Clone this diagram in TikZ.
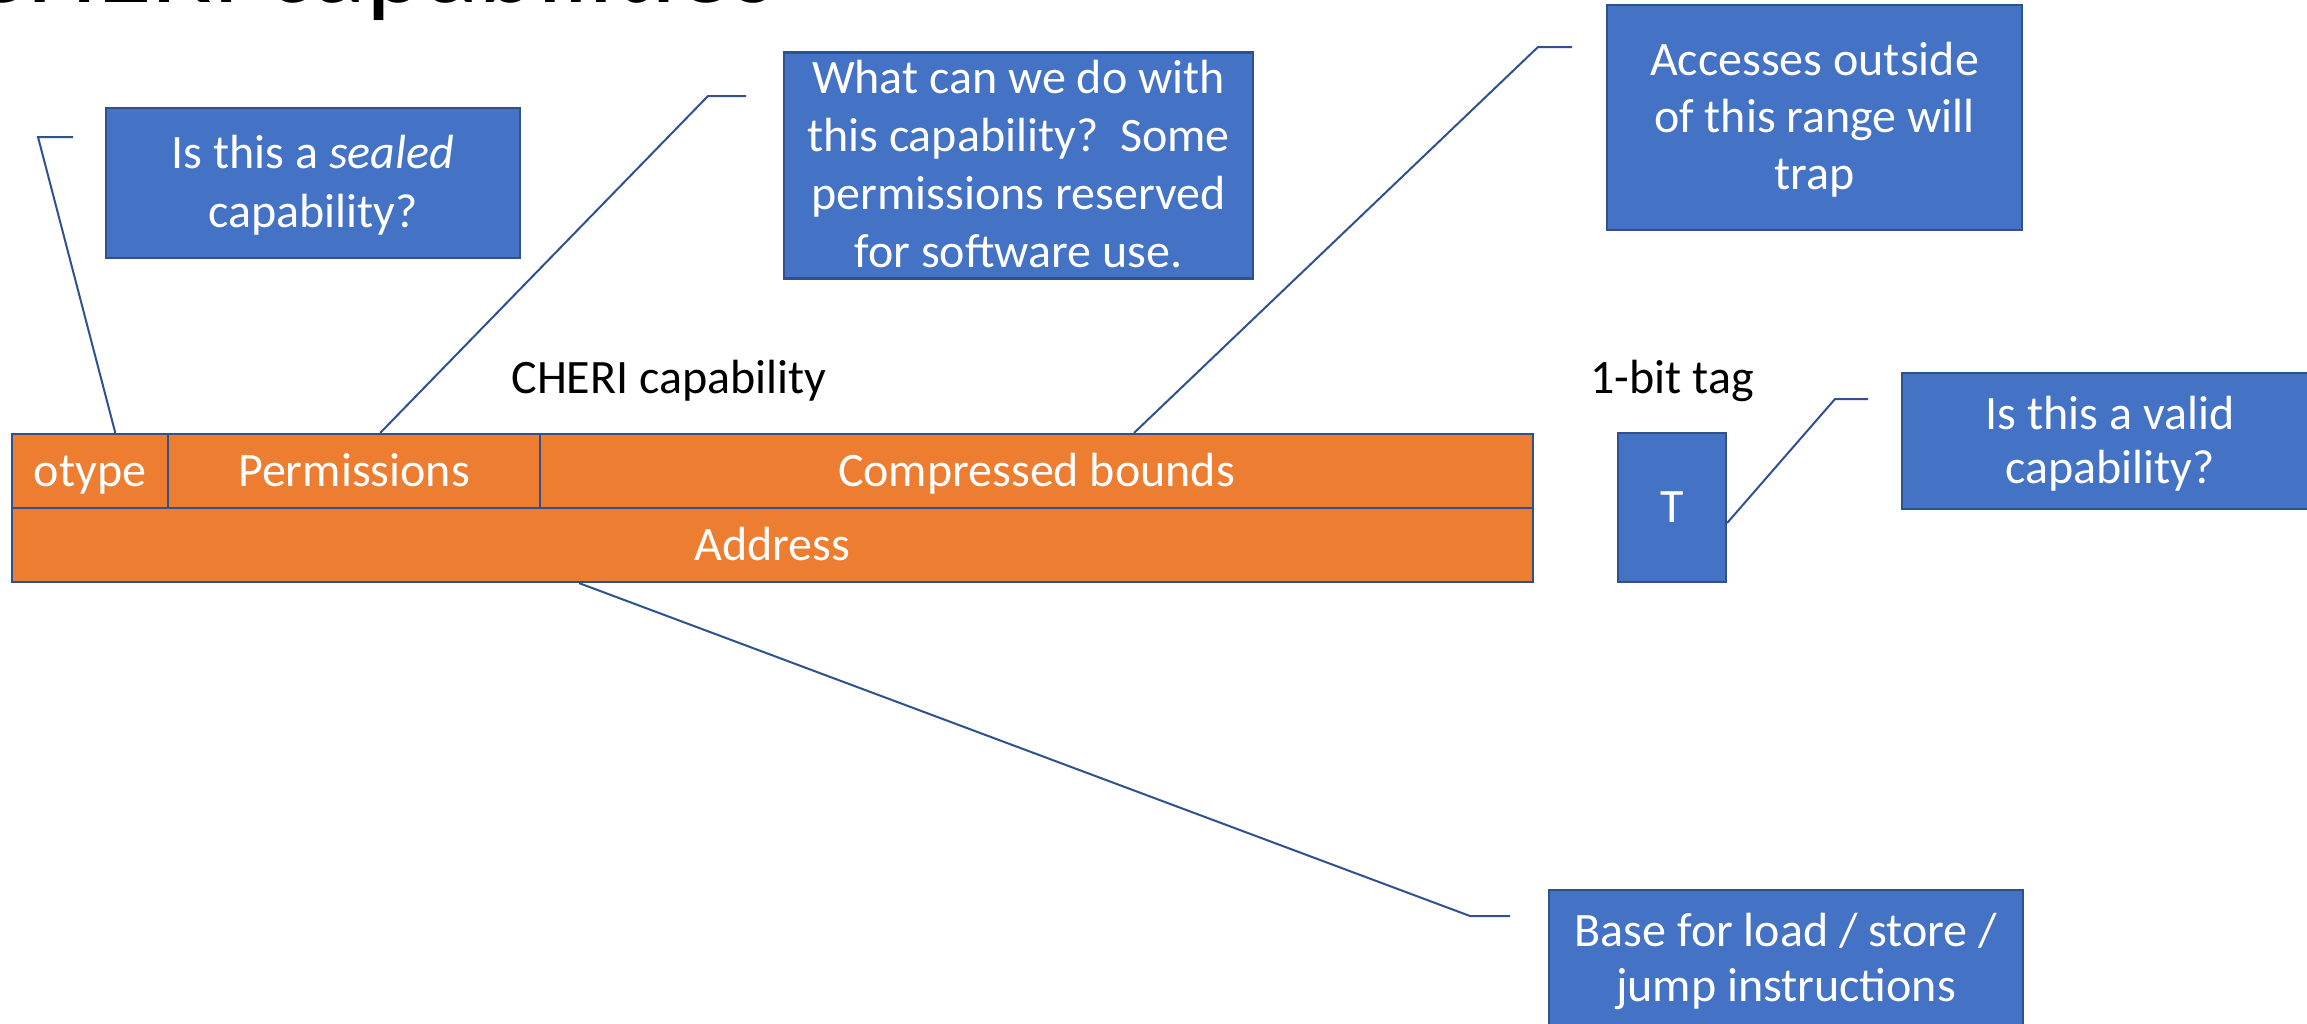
\documentclass[tikz,border=0pt]{standalone}
\usepackage{fontspec}
\setmainfont{Carlito}
\usetikzlibrary{calc}
\definecolor{boxblue}{HTML}{4472C4}
\definecolor{edgeblue}{HTML}{2F528F}
\definecolor{capor}{HTML}{ED7D31}
\newcommand{\topst}{\rule{0pt}{20.5pt}}
\newcommand{\botst}{\rule[-5.5pt]{0pt}{5.5pt}}
\tikzset{
  note/.style={draw=edgeblue, line width=1.1pt, fill=boxblue, text=white, align=center, inner sep=0pt,
    font=\fontsize{24}{28.5}\selectfont},
  cell/.style={draw=edgeblue, line width=1.1pt, fill=capor, text=white, inner sep=0pt,
    font=\fontsize{24}{28.5}\selectfont},
  lbl/.style={text=black, inner sep=0pt, anchor=base, font=\fontsize{24}{28.5}\selectfont},
  leader/.style={draw=edgeblue, line width=1pt}
}
\begin{document}
\begin{tikzpicture}[x=0.5pt,y=-0.5pt]
\useasboundingbox (0,0) rectangle (2307,1023);
\clip (0,0) rectangle (2307,1023);
\fill[white] (0,0) rectangle (2307,1023);

% title (cut off at the top)
\node[anchor=base east, inner sep=0pt, font=\fontsize{56}{64}\selectfont] (title) at (777,2) {CHERI capabilities};

% capability fields
\node[cell, minimum width=78pt, minimum height=37pt] (otype) at (90,471) {\topst otype\botst};
\node[cell, minimum width=186pt, minimum height=37pt] (perms) at (354,471) {\topst Permissions\botst};
\node[cell, minimum width=496.5pt, minimum height=37pt] (bounds) at (1036.5,471) {\topst Compressed bounds\botst};
\node[cell, minimum width=760.5pt, minimum height=37pt] (addr) at (772.5,545) {\topst Address\botst};
\node[note, minimum width=54pt, minimum height=74.5pt] (tbox) at (1672,507.5) {\topst T\botst};

\node[lbl] (caplbl) at (669,393) {CHERI capability};
\node[lbl] (taglbl) at (1672,393) {1-bit tag};

% notes
\node[note, minimum width=207pt, minimum height=75pt, font=\fontsize{24}{29.5}\selectfont] (sealed) at (313,183)
  {\topst Is this a \textit{sealed}\\capability?\botst};
\node[note, minimum width=234.5pt, minimum height=112.5pt, font=\fontsize{24}{29}\selectfont] (permnote) at (1018.5,165.5)
  {\topst What can we do with\\this capability?\ \ Some\\permissions reserved\\for software use.\botst};
\node[note, minimum width=207.5pt, minimum height=112.5pt] (boundnote) at (1814.5,117.5)
  {\topst Accesses outside\\of this range will\\trap\botst};
\node[note, minimum width=208pt, minimum height=68pt, font=\fontsize{24}{27}\selectfont] (validnote) at (2110,441)
  {\topst Is this a valid\\capability?\botst};
\node[note, minimum width=237pt, minimum height=68.5pt, font=\fontsize{24}{27.5}\selectfont] (basenote) at (1786,958.5)
  {\topst Base for load / store /\\jump instructions\botst};

% leader lines
\coordinate (l1b) at (38,137);
\coordinate (l1c) at (73,137);
\draw[leader] ($(otype.north west)!0.66!(otype.north east)$) -- (l1b) -- (l1c);

\coordinate (l2b) at (708,96);
\coordinate (l2c) at (746,96);
\draw[leader] ($(perms.north west)!0.57!(perms.north east)$) -- (l2b) -- (l2c);

\coordinate (l3b) at (1538,47);
\coordinate (l3c) at (1572,47);
\draw[leader] ($(bounds.north west)!0.598!(bounds.north east)$) -- (l3b) -- (l3c);

\coordinate (l4b) at (1835,399);
\coordinate (l4c) at (1868,399);
\draw[leader] ($(tbox.east)+(0,15.5)$) -- (l4b) -- (l4c);

\coordinate (l5b) at (1470,916);
\coordinate (l5c) at (1510,916);
\draw[leader] ($(addr.south west)!0.373!(addr.south east)$) -- (l5b) -- (l5c);
\end{tikzpicture}
\end{document}
